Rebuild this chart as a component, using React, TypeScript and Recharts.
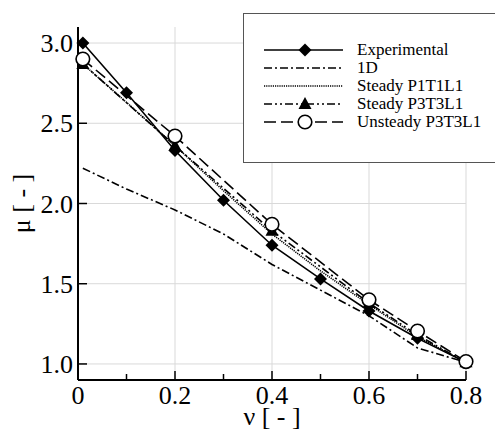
import React from "react";
import { LineChart, Line, XAxis, YAxis, ReferenceLine, Legend } from "recharts";

// values
const nuExp = [0.01, 0.1, 0.2, 0.3, 0.4, 0.5, 0.6, 0.7, 0.8];
const muExp = [3.0, 2.69, 2.33, 2.02, 1.74, 1.53, 1.33, 1.16, 1.01];
const mu1D = [2.22, 2.09, 1.96, 1.81, 1.62, 1.46, 1.3, 1.1, 1.01];
const muP1T1L1 = [2.87, 2.63, 2.36, 2.08, 1.81, 1.58, 1.37, 1.17, 1.01];
const nuSim = [0.01, 0.2, 0.4, 0.6, 0.7, 0.8];
const muP3T3L1 = [2.87, 2.36, 1.83, 1.38, 1.18, 1.01];
const muUnsteady = [2.9, 2.42, 1.87, 1.4, 1.205, 1.015];

const xTicks = [0, 0.1, 0.2, 0.3, 0.4, 0.5, 0.6, 0.7, 0.8];
const xMajor = [0, 0.2, 0.4, 0.6, 0.8];
const yTicks = [1.0, 1.5, 2.0, 2.5, 3.0];

const FONT = "Liberation Serif";
const txt = (size: number) => ({ fontFamily: FONT, fontSize: size, fill: "#000" });

const toPoints = (xs: number[], ys: number[]) => xs.map((x, i) => ({ x, y: ys[i] }));

type Marker = "diamond" | "triangle" | "circle" | "none";

function drawMarker(kind: Marker, cx: number, cy: number, key?: string) {
  if (kind === "diamond") {
    return <path key={key} d={`M${cx},${cy - 6.5}L${cx + 6.5},${cy}L${cx},${cy + 6.5}L${cx - 6.5},${cy}Z`} fill="#000" />;
  }
  if (kind === "triangle") {
    return <path key={key} d={`M${cx},${cy - 7}L${cx + 6.5},${cy + 5}L${cx - 6.5},${cy + 5}Z`} fill="#000" />;
  }
  if (kind === "circle") {
    return <circle key={key} cx={cx} cy={cy} r={6.8} fill="#fff" stroke="#000" strokeWidth={1.6} />;
  }
  return <g key={key} />;
}

const series = [
  { name: "Experimental", data: toPoints(nuExp, muExp), dash: undefined, marker: "diamond" as Marker },
  { name: "1D", data: toPoints(nuExp, mu1D), dash: "8 3 2 3", marker: "none" as Marker },
  { name: "Steady P1T1L1", data: toPoints(nuExp, muP1T1L1), dash: "1.2 1", marker: "none" as Marker },
  { name: "Steady P3T3L1", data: toPoints(nuSim, muP3T3L1), dash: "8 3 2 3 2 3", marker: "triangle" as Marker },
  { name: "Unsteady P3T3L1", data: toPoints(nuSim, muUnsteady), dash: "12 5", marker: "circle" as Marker },
];

const XTick = (props: any) => {
  const { x, y, payload } = props;
  const major = xMajor.includes(payload.value);
  return (
    <g>
      <line x1={x} y1={y} x2={x} y2={y - (major ? 9 : 6)} stroke="#000" strokeWidth={1.5} />
      {major && (
        <text x={x} y={y + 24} textAnchor="middle" fontFamily={FONT} style={txt(26)}>
          {payload.value === 0 ? "0" : payload.value.toFixed(1)}
        </text>
      )}
    </g>
  );
};

const YTick = (props: any) => {
  const { x, y, payload } = props;
  return (
    <g>
      <line x1={x} y1={y} x2={x + 9} y2={y} stroke="#000" strokeWidth={1.5} />
      <text x={x - 5} y={y + 9} textAnchor="end" fontFamily={FONT} style={txt(26)}>
        {payload.value.toFixed(1)}
      </text>
    </g>
  );
};

const LegendBox = () => (
  <div style={{ background: "#fff", border: "1.5px solid #555", width: 260, height: 148 }}>
    <svg width={260} height={148}>
      {series.map((s, i) => {
        const y = 36 + i * 18;
        return (
          <g key={s.name}>
            <line x1={20} y1={y} x2={99} y2={y} stroke="#000" strokeWidth={1.6} strokeDasharray={s.dash} />
            {drawMarker(s.marker, 61, y)}
            <text x={113} y={y + 5} fontFamily={FONT} style={txt(17)}>
              {s.name}
            </text>
          </g>
        );
      })}
    </svg>
  </div>
);

export default function App() {
  return (
    <div style={{ position: "absolute", left: 0, top: 0, background: "#fff" }}>
      <LineChart width={495} height={430} margin={{ top: 27, right: 29, left: 0, bottom: 0 }}>
        {xMajor.map((v) => (
          <ReferenceLine key={`gx${v}`} x={v} stroke="#d9d9d9" strokeWidth={1} />
        ))}
        {yTicks.map((v) => (
          <ReferenceLine key={`gy${v}`} y={v} stroke="#d9d9d9" strokeWidth={1} />
        ))}
        <XAxis
          type="number"
          dataKey="x"
          domain={[0, 0.8]}
          ticks={xTicks}
          interval={0}
          height={50}
          tickSize={0}
          tickMargin={0}
          tickLine={false}
          axisLine={{ stroke: "#000", strokeWidth: 2 }}
          tick={<XTick />}
          allowDuplicatedCategory={false}
          label={(p: any) => {
            const vb = p.viewBox;
            return (
              <text x={vb.x + vb.width / 2} y={vb.y + 45} textAnchor="middle" fontFamily={FONT} style={txt(26)}>
                ν [ - ]
              </text>
            );
          }}
        />
        <YAxis
          type="number"
          domain={[0.9, 3.1]}
          ticks={yTicks}
          interval={0}
          width={78}
          tickSize={0}
          tickMargin={0}
          tickLine={false}
          axisLine={{ stroke: "#000", strokeWidth: 2 }}
          tick={<YTick />}
          label={(p: any) => {
            const vb = p.viewBox;
            const cy = vb.y + vb.height / 2;
            return (
              <text x={29.5} y={cy} transform={`rotate(-90, 29.5, ${cy})`} textAnchor="middle" fontFamily={FONT} style={txt(26)}>
                μ [ - ]
              </text>
            );
          }}
        />
        {series.map((s) => (
          <Line
            key={s.name}
            name={s.name}
            data={s.data}
            dataKey="y"
            type="linear"
            stroke="#000"
            strokeWidth={1.6}
            strokeDasharray={s.dash}
            isAnimationActive={false}
            activeDot={false}
            dot={(p: any) => drawMarker(s.marker, p.cx, p.cy, `${s.name}-${p.index}`)}
          />
        ))}
        <Legend
          layout="vertical"
          align="center"
          verticalAlign="middle"
          content={<LegendBox />}
          wrapperStyle={{ left: 243, top: 13, width: 260, height: 150 }}
        />
      </LineChart>
    </div>
  );
}
